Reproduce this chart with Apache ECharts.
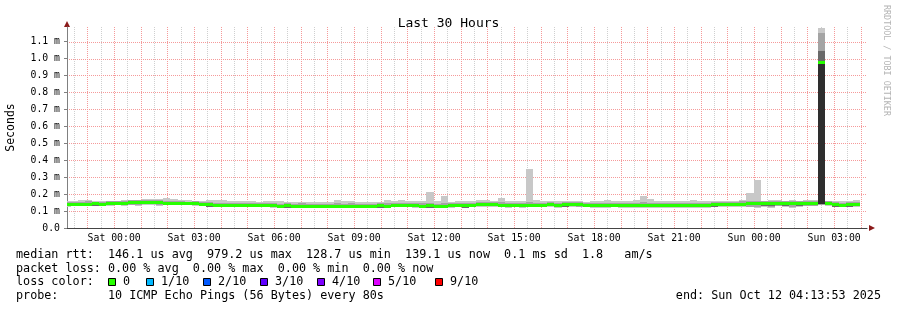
<!DOCTYPE html>
<html><head><meta charset="utf-8">
<script src="https://cdn.jsdelivr.net/npm/echarts@6/dist/echarts.min.js"></script>
<style>html,body{margin:0;padding:0;background:#fff}#c{width:897px;height:310px}</style>
</head><body><div id="c"></div>
<script>
// ---- data (milliseconds), one value per 16-minute bin ----
const medianMs = [
 0.141,0.140,0.142,0.144,0.145,0.143,0.145,0.148,0.150,0.152,0.153,0.156,0.155,0.154,0.148,0.146,
 0.147,0.145,0.146,0.140,0.139,0.138,0.137,0.136,0.135,0.135,0.134,0.135,0.133,0.133,0.132,0.133,
 0.131,0.132,0.129,0.131,0.132,0.131,0.130,0.131,0.132,0.131,0.130,0.132,0.133,0.132,0.133,0.136,
 0.135,0.133,0.132,0.133,0.132,0.131,0.133,0.134,0.134,0.136,0.139,0.140,0.139,0.137,0.136,0.137,
 0.136,0.138,0.137,0.138,0.139,0.137,0.140,0.141,0.139,0.138,0.137,0.136,0.136,0.137,0.136,0.135,
 0.136,0.137,0.136,0.135,0.136,0.136,0.135,0.136,0.137,0.136,0.137,0.139,0.141,0.143,0.142,0.144,
 0.145,0.146,0.145,0.146,0.147,0.146,0.147,0.146,0.148,0.147,0.979,0.150,0.140,0.138,0.139,0.139
];
const maxMs = [
 0.158,0.160,0.165,0.163,0.160,0.162,0.158,0.162,0.165,0.163,0.166,0.170,0.172,0.172,0.178,0.170,
 0.165,0.163,0.162,0.160,0.165,0.167,0.163,0.162,0.160,0.158,0.160,0.155,0.157,0.159,0.158,0.152,
 0.153,0.152,0.153,0.152,0.154,0.155,0.165,0.158,0.157,0.155,0.154,0.155,0.156,0.165,0.158,0.165,
 0.157,0.157,0.158,0.212,0.160,0.189,0.156,0.160,0.158,0.160,0.165,0.163,0.158,0.179,0.160,0.157,
 0.158,0.348,0.165,0.162,0.160,0.158,0.162,0.157,0.160,0.155,0.158,0.160,0.165,0.160,0.162,0.160,
 0.163,0.190,0.171,0.158,0.160,0.157,0.160,0.160,0.165,0.158,0.162,0.162,0.160,0.158,0.162,0.165,
 0.206,0.283,0.160,0.163,0.163,0.162,0.163,0.162,0.163,0.163,1.180,0.160,0.160,0.160,0.162,0.165
];
const minMs = [
 0.124,0.127,0.129,0.130,0.128,0.131,0.130,0.133,0.132,0.134,0.131,0.135,0.133,0.128,0.134,0.133,
 0.133,0.134,0.131,0.128,0.127,0.126,0.125,0.124,0.123,0.125,0.124,0.123,0.121,0.120,0.118,0.121,
 0.119,0.120,0.117,0.119,0.120,0.116,0.118,0.119,0.120,0.118,0.117,0.119,0.120,0.119,0.121,0.122,
 0.121,0.119,0.118,0.120,0.117,0.118,0.120,0.121,0.121,0.122,0.124,0.125,0.123,0.121,0.120,0.121,
 0.120,0.122,0.121,0.122,0.123,0.120,0.124,0.125,0.122,0.121,0.120,0.119,0.120,0.121,0.119,0.118,
 0.119,0.120,0.119,0.118,0.119,0.118,0.117,0.119,0.120,0.118,0.119,0.121,0.124,0.125,0.122,0.126,
 0.121,0.118,0.125,0.120,0.127,0.124,0.119,0.126,0.128,0.127,0.135,0.130,0.124,0.121,0.122,0.123
];
const midHiMs = [
 0.153,0.152,0.156,0.157,0.155,0.156,0.157,0.160,0.161,0.163,0.164,0.168,0.165,0.165,0.160,0.158,
 0.158,0.156,0.157,0.151,0.152,0.150,0.149,0.148,0.147,0.148,0.146,0.147,0.145,0.145,0.144,0.145,
 0.143,0.145,0.141,0.143,0.144,0.144,0.145,0.143,0.145,0.143,0.142,0.144,0.146,0.147,0.145,0.150,
 0.147,0.146,0.145,0.150,0.144,0.149,0.145,0.147,0.146,0.148,0.152,0.152,0.151,0.152,0.148,0.149,
 0.148,0.153,0.150,0.150,0.151,0.149,0.154,0.153,0.151,0.150,0.149,0.148,0.150,0.149,0.148,0.147,
 0.148,0.152,0.150,0.147,0.148,0.148,0.147,0.148,0.150,0.148,0.150,0.151,0.153,0.155,0.154,0.157,
 0.160,0.162,0.157,0.158,0.159,0.158,0.159,0.158,0.160,0.159,1.149,0.162,0.152,0.150,0.151,0.152
];
const midLoMs = [
 0.129,0.131,0.132,0.133,0.132,0.134,0.133,0.136,0.137,0.138,0.137,0.140,0.140,0.136,0.137,0.136,
 0.137,0.137,0.135,0.130,0.129,0.128,0.127,0.126,0.126,0.127,0.126,0.126,0.124,0.123,0.122,0.123,
 0.122,0.123,0.120,0.122,0.123,0.121,0.121,0.122,0.123,0.121,0.120,0.122,0.123,0.122,0.124,0.125,
 0.124,0.122,0.121,0.123,0.121,0.121,0.123,0.124,0.124,0.125,0.128,0.129,0.127,0.125,0.124,0.125,
 0.124,0.126,0.125,0.126,0.127,0.124,0.128,0.129,0.126,0.125,0.124,0.123,0.124,0.125,0.123,0.122,
 0.123,0.124,0.123,0.122,0.123,0.122,0.121,0.123,0.124,0.122,0.123,0.125,0.128,0.130,0.127,0.130,
 0.126,0.123,0.129,0.125,0.131,0.128,0.124,0.130,0.132,0.131,0.137,0.134,0.128,0.125,0.126,0.127
];
// [bin index, low, high] of the darker inner smoke
const darkBand = [
 [3,0.130,0.138],[4,0.131,0.139],[5,0.129,0.137],[20,0.125,0.133],[21,0.124,0.132],[22,0.123,0.131],
 [27,0.121,0.129],[30,0.118,0.126],[31,0.119,0.127],[37,0.117,0.125],[38,0.116,0.124],[44,0.119,0.127],
 [50,0.118,0.126],[51,0.119,0.127],[52,0.118,0.126],[53,0.117,0.125],[56,0.120,0.128],[57,0.122,0.130],
 [62,0.122,0.130],[65,0.124,0.132],[66,0.123,0.131],[70,0.126,0.134],[73,0.124,0.132],[74,0.123,0.131],
 [75,0.122,0.130],[76,0.122,0.130],[80,0.122,0.130],[83,0.121,0.129],[89,0.122,0.130],[91,0.125,0.133],
 [92,0.127,0.135],[94,0.128,0.136],[95,0.130,0.138],[98,0.131,0.139],[99,0.132,0.140],[101,0.132,0.140],
 [102,0.133,0.141],[103,0.132,0.140],[105,0.133,0.141],[106,0.139,1.044],[108,0.126,0.134],
 [109,0.124,0.132],[110,0.125,0.133]
];
const coreBand = [[106,0.140,0.985]];
const xTickHours = [0,3,6,9,12,15,18,21,24,27];
const xTickLabels = ['Sat 00:00','Sat 03:00','Sat 06:00','Sat 09:00','Sat 12:00','Sat 15:00','Sat 18:00','Sat 21:00','Sun 00:00','Sun 03:00'];
const yTicks = [0,0.1,0.2,0.3,0.4,0.5,0.6,0.7,0.8,0.9,1.0,1.1];
const statsLine = 'median rtt:  146.1 us avg  979.2 us max  128.7 us min  139.1 us now  0.1 ms sd  1.8   am/s';
const lossLine  = 'packet loss: 0.00 % avg  0.00 % max  0.00 % min  0.00 % now';
const probeLine = 'probe:       10 ICMP Echo Pings (56 Bytes) every 80s';
const endLine   = 'end: Sun Oct 12 04:13:53 2025';
const lossLabels = ['0','1/10','2/10','3/10','4/10','5/10','9/10'];
const lossColors = ['#26ff00','#00b8ff','#0059ff','#5e00ff','#7e00ff','#dd00ff','#ff0000'];

// ---- layout / time scale (hours relative to Sat 00:00) ----
const N = medianMs.length;
const binStartHour = -1.889, binHours = 16 / 60;
const binT = k => binStartHour + k * binHours;
const xMin = -1.76861, xMax = 28.23139, yMax = 1.186;
const hourLines = [], halfLines = [];
for (let h = -1; h <= 28; h++) hourLines.push(h);
for (let h = -1.5; h <= 28; h += 1) halfLines.push(h);
const lossBoxX = [108, 146, 203, 260, 317, 373, 435];
const MONO = '"DejaVu Sans Mono", monospace';
const MAJOR = '#f59a9a', MINOR = '#cfcfcf';

function rectItem(api, fill) {
  const a = api.coord([api.value(0), api.value(3)]);
  const b = api.coord([api.value(1), api.value(2)]);
  const x0 = Math.round(a[0]), x1 = Math.round(b[0]);
  const y0 = Math.round(a[1]), y1 = Math.round(b[1]);
  return { type: 'rect', shape: { x: x0, y: y0, width: x1 - x0, height: Math.max(0, y1 - y0) }, style: { fill } };
}
function band(lo, hi, color, z) {
  const data = [];
  for (let k = 0; k < N; k++) data.push([binT(k), binT(k + 1), lo[k], hi[k]]);
  return { type: 'custom', z, clip: true, silent: true, encode: { x: [0, 1], y: [2, 3] }, data,
    renderItem: (p, api) => rectItem(api, color) };
}
function sparseBand(list, color, z) {
  const data = list.map(r => [binT(r[0]), binT(r[0] + 1), r[1], r[2]]);
  return { type: 'custom', z, clip: true, silent: true, encode: { x: [0, 1], y: [2, 3] }, data,
    renderItem: (p, api) => rectItem(api, color) };
}
// grid lines drawn through the axes' scales
function vGrid(hours, color, z) {
  return { type: 'custom', z, silent: true, clip: true, encode: { x: 0, y: 1 },
    data: hours.map(h => [h, 0]),
    renderItem: (p, api) => {
      const a = api.coord([api.value(0), 0]), b = api.coord([api.value(0), yMax]);
      const x = Math.round(a[0]) + 0.5;
      return { type: 'line', shape: { x1: x, y1: Math.round(a[1]), x2: x, y2: Math.round(b[1]) },
        style: { stroke: color, lineWidth: 1, lineDash: [1, 1] } };
    } };
}
function hGrid(vals, color, z) {
  return { type: 'custom', z, silent: true, clip: true, encode: { x: 0, y: 1 },
    data: vals.map(v => [xMin, v]),
    renderItem: (p, api) => {
      const a = api.coord([xMin, api.value(1)]), b = api.coord([xMax, api.value(1)]);
      const y = Math.round(a[1]) + 0.5;
      return { type: 'line', shape: { x1: Math.round(a[0]), y1: y, x2: Math.round(b[0]), y2: y },
        style: { stroke: color, lineWidth: 1, lineDash: [1, 1] } };
    } };
}
const medData = medianMs.map((v, k) => [binT(k), binT(k + 1), v]);
const medianSeries = { type: 'custom', z: 10, clip: true, silent: true, encode: { x: [0, 1], y: 2 }, data: medData,
  renderItem: (p, api) => {
    const a = api.coord([api.value(0), api.value(2)]);
    const b = api.coord([api.value(1), api.value(2)]);
    const x0 = Math.round(a[0]), x1 = Math.round(b[0]);
    const yc = Math.round(a[1]);
    return { type: 'rect', shape: { x: x0, y: yc - 1, width: x1 - x0, height: 3 }, style: { fill: lossColors[0] } };
  } };

const graphic = [
  { type: 'text', x: 16, y: 255, style: { text: statsLine, font: '11.75px ' + MONO, fill: '#000', textVerticalAlign: 'middle' } },
  { type: 'text', x: 16, y: 268.5, style: { text: lossLine, font: '11.75px ' + MONO, fill: '#000', textVerticalAlign: 'middle' } },
  { type: 'text', x: 16, y: 282, style: { text: 'loss color:', font: '11.75px ' + MONO, fill: '#000', textVerticalAlign: 'middle' } },
  { type: 'text', x: 16, y: 295.5, style: { text: probeLine, font: '11.75px ' + MONO, fill: '#000', textVerticalAlign: 'middle' } },
  { type: 'text', x: 881, y: 295.5, style: { text: endLine, font: '11.75px ' + MONO, fill: '#000', textAlign: 'right', textVerticalAlign: 'middle' } },
  { type: 'text', x: 886, y: 5, rotation: -Math.PI / 2, style: { text: 'RRDTOOL / TOBI OETIKER', font: '8.4px ' + MONO, fill: '#b4b4b4', textVerticalAlign: 'middle' } },
  { type: 'polygon', shape: { points: [[869, 225], [869, 231], [875, 228]] }, style: { fill: '#8b1a1a' } },
  { type: 'polygon', shape: { points: [[64, 27], [70, 27], [67, 21]] }, style: { fill: '#8b1a1a' } }
];
lossLabels.forEach((lab, i) => {
  graphic.push({ type: 'rect', shape: { x: lossBoxX[i] + 0.5, y: 278.5, width: 7, height: 7 }, style: { fill: lossColors[i], stroke: '#000', lineWidth: 1 } });
  graphic.push({ type: 'text', x: lossBoxX[i] + 15, y: 282, style: { text: lab, font: '11.75px ' + MONO, fill: '#000', textVerticalAlign: 'middle' } });
});

const chart = echarts.init(document.getElementById('c'), null, { renderer: 'canvas' });
chart.setOption({
  animation: false,
  backgroundColor: '#fff',
  title: { text: 'Last 30 Hours', left: 'center', top: 12, textStyle: { fontFamily: MONO, fontSize: 13, fontWeight: 'normal', color: '#000' } },
  grid: { left: 67, right: 30, top: 27, bottom: 82, containLabel: false, outerBoundsMode: 'none' },
  xAxis: {
    type: 'value', min: xMin, max: xMax, position: 'bottom',
    axisLine: { show: true, onZero: false, lineStyle: { color: '#444', width: 1 } },
    axisTick: { show: false, customValues: xTickHours },
    splitLine: { show: false },
    axisLabel: { customValues: xTickHours, margin: 5, color: '#000', fontFamily: MONO, fontSize: 9.8,
      formatter: v => { const i = xTickHours.findIndex(h => Math.abs(h - v) < 1e-6); return i >= 0 ? xTickLabels[i] : ''; } }
  },
  yAxis: {
    type: 'value', min: 0, max: yMax,
    name: 'Seconds', nameLocation: 'middle', nameGap: 50, nameRotate: 90,
    nameTextStyle: { fontFamily: MONO, fontSize: 11.5, color: '#000' },
    axisLine: { show: true, onZero: false, lineStyle: { color: '#808080' } },
    axisTick: { show: true, length: 3, customValues: yTicks, lineStyle: { color: '#808080' } },
    splitLine: { show: false },
    axisLabel: { customValues: yTicks, margin: 7, color: '#000', fontFamily: MONO, fontSize: 9.8,
      formatter: v => v === 0 ? '0.0' : v.toFixed(1) + ' m' }
  },
  series: [
    vGrid(halfLines, MINOR, 0),
    vGrid(hourLines, MAJOR, 0),
    hGrid(yTicks.slice(1), MAJOR, 0),
    band(minMs, maxMs, '#c8c8c8', 2),
    band(midLoMs, midHiMs, '#a4a4a4', 3),
    sparseBand(darkBand, '#6a6a6a', 4),
    sparseBand(coreBand, '#2e2e2e', 5),
    medianSeries
  ],
  graphic
});
</script></body></html>
